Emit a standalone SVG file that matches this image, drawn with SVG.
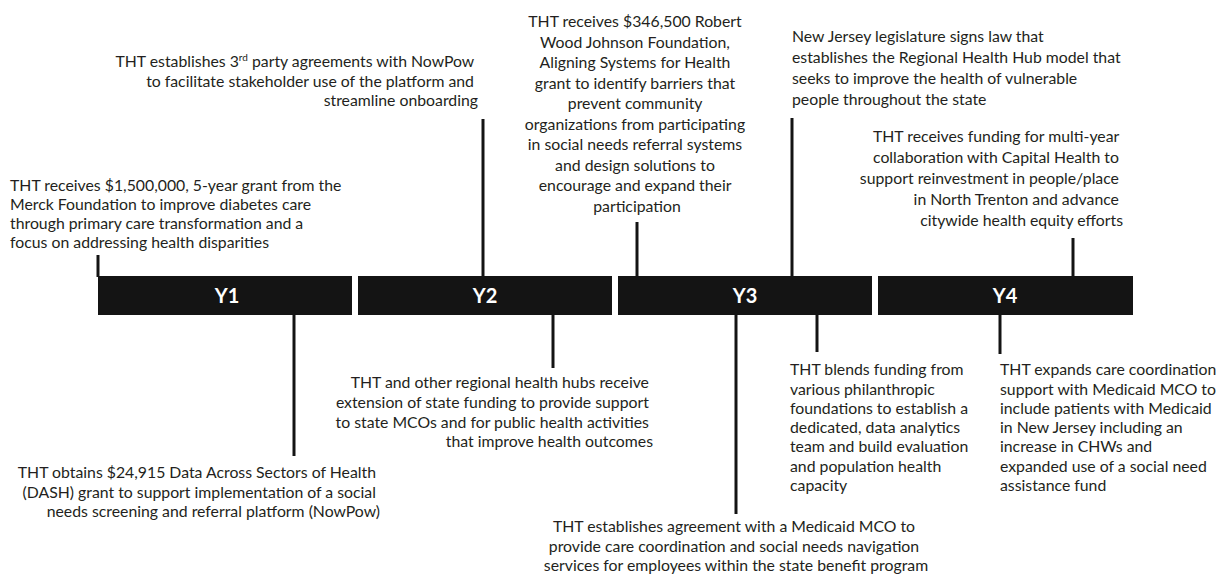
<svg xmlns="http://www.w3.org/2000/svg" width="1225" height="584" viewBox="0 0 1225 584">
<style>
.t{font-family:Lato,"Open Sans","Liberation Sans",sans-serif;font-size:15.8px;fill:#231f20}
.s{text-anchor:start}.e{text-anchor:end}.m{text-anchor:middle}
.bar{fill:#141414}
.yl{font-family:Lato,"Liberation Sans",sans-serif;font-weight:bold;font-size:20px;fill:#fff;text-anchor:middle}
.c{stroke:#141414;stroke-width:3;fill:none}
</style>
<rect width="1225" height="584" fill="#fff"/>
<g id="bars">
<g id="y1"><rect class="bar" x="98" y="276" width="254" height="39"/><text class="yl" x="227" y="303">Y1</text></g>
<g id="y2"><rect class="bar" x="358" y="276" width="254" height="39"/><text class="yl" x="485" y="303">Y2</text></g>
<g id="y3"><rect class="bar" x="618" y="276" width="254" height="39"/><text class="yl" x="745" y="303">Y3</text></g>
<g id="y4"><rect class="bar" x="878" y="276" width="255" height="39"/><text class="yl" x="1005" y="303">Y4</text></g>
</g>
<g id="connectors">
<path class="c" d="M98 255V277"/>
<path class="c" d="M483 119V277"/>
<path class="c" d="M637 222V277"/>
<path class="c" d="M792 118V277"/>
<path class="c" d="M1073 238V277"/>
<path class="c" d="M294 314V456"/>
<path class="c" d="M553 314V368"/>
<path class="c" d="M736 314V514"/>
<path class="c" d="M817 314V352"/>
<path class="c" d="M1000 314V354"/>
</g>
<g id="e1"><text class="t s">
<tspan x="10" y="191">THT receives $1,500,000, 5-year grant from the</tspan>
<tspan x="10" y="210">Merck Foundation to improve diabetes care</tspan>
<tspan x="10" y="229">through primary care transformation and a</tspan>
<tspan x="10" y="248">focus on addressing health disparities</tspan>
</text></g>
<g id="e2"><text class="t e">
<tspan x="478" y="67">THT establishes 3<tspan font-size="10" dy="-6">rd</tspan><tspan dy="6"> party agreements with NowPow</tspan></tspan>
<tspan x="478" y="87">to facilitate stakeholder use of the platform and</tspan>
<tspan x="478" y="106">streamline onboarding</tspan>
</text></g>
<g id="e3"><text class="t m">
<tspan x="637" y="27">THT receives $346,500 Robert</tspan>
<tspan x="637" y="47.5">Wood Johnson Foundation,</tspan>
<tspan x="637" y="68">Aligning Systems for Health</tspan>
<tspan x="637" y="88.5">grant to identify barriers that</tspan>
<tspan x="637" y="109">prevent community</tspan>
<tspan x="637" y="129.5">organizations from participating</tspan>
<tspan x="637" y="150">in social needs referral systems</tspan>
<tspan x="637" y="170.5">and design solutions to</tspan>
<tspan x="637" y="191">encourage and expand their</tspan>
<tspan x="637" y="212">participation</tspan>
</text></g>
<g id="e4"><text class="t s">
<tspan x="792" y="42">New Jersey legislature signs law that</tspan>
<tspan x="792" y="63">establishes the Regional Health Hub model that</tspan>
<tspan x="792" y="84">seeks to improve the health of vulnerable</tspan>
<tspan x="792" y="105">people throughout the state</tspan>
</text></g>
<g id="e5"><text class="t e">
<tspan x="1123" y="142">THT receives funding for multi-year</tspan>
<tspan x="1123" y="163">collaboration with Capital Health to</tspan>
<tspan x="1123" y="184">support reinvestment in people/place</tspan>
<tspan x="1123" y="205">in North Trenton and advance</tspan>
<tspan x="1123" y="226">citywide health equity efforts</tspan>
</text></g>
<g id="e6"><text class="t e">
<tspan x="653" y="388">THT and other regional health hubs receive</tspan>
<tspan x="653" y="408">extension of state funding to provide support</tspan>
<tspan x="653" y="428">to state MCOs and for public health activities</tspan>
<tspan x="653" y="447">that improve health outcomes</tspan>
</text></g>
<g id="e7"><text class="t e">
<tspan x="380" y="478">THT obtains $24,915 Data Across Sectors of Health</tspan>
<tspan x="380" y="498">(DASH) grant to support implementation of a social</tspan>
<tspan x="380" y="517">needs screening and referral platform (NowPow)</tspan>
</text></g>
<g id="e8"><text class="t m">
<tspan x="736" y="532">THT establishes agreement with a Medicaid MCO to</tspan>
<tspan x="736" y="552">provide care coordination and social needs navigation</tspan>
<tspan x="736" y="571">services for employees within the state benefit program</tspan>
</text></g>
<g id="e9"><text class="t s">
<tspan x="790" y="375">THT blends funding from</tspan>
<tspan x="790" y="394.5">various philanthropic</tspan>
<tspan x="790" y="414">foundations to establish a</tspan>
<tspan x="790" y="433">dedicated, data analytics</tspan>
<tspan x="790" y="452">team and build evaluation</tspan>
<tspan x="790" y="471.5">and population health</tspan>
<tspan x="790" y="491">capacity</tspan>
</text></g>
<g id="e10"><text class="t s">
<tspan x="1000" y="375">THT expands care coordination</tspan>
<tspan x="1000" y="394.5">support with Medicaid MCO to</tspan>
<tspan x="1000" y="414">include patients with Medicaid</tspan>
<tspan x="1000" y="433">in New Jersey including an</tspan>
<tspan x="1000" y="452">increase in CHWs and</tspan>
<tspan x="1000" y="471.5">expanded use of a social need</tspan>
<tspan x="1000" y="491">assistance fund</tspan>
</text></g>
</svg>
